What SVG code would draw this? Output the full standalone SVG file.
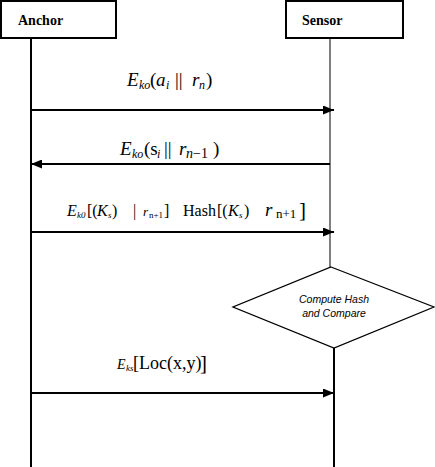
<svg xmlns="http://www.w3.org/2000/svg" width="435" height="467" viewBox="0 0 435 467">
<style>
.box{fill:#fff;stroke:#000;stroke-width:2}
.hdr{font-family:"Liberation Serif",serif;font-weight:bold;font-size:14px}
.life{stroke:#000;fill:none}
.msg{stroke:#000;stroke-width:2;fill:none}
.m{font-family:"Liberation Serif",serif;font-size:19px}
.i{font-style:italic}
.s{font-size:12px;font-style:italic}
.dt{font-family:"Liberation Sans",sans-serif;font-style:italic;font-size:10.5px;text-anchor:middle}
</style>
<defs>
<marker id="ah" markerWidth="11" markerHeight="9" refX="11" refY="4.5" orient="auto" markerUnits="userSpaceOnUse">
<path d="M0,0 L11,4.5 L0,9 Z" fill="#000"/>
</marker>
</defs>
<g id="anchor">
<rect class="box" x="1" y="1" width="115" height="37"/>
<text class="hdr" x="18" y="25">Anchor</text>
</g>
<g id="sensor">
<rect class="box" x="286" y="1" width="117" height="37"/>
<text class="hdr" x="302" y="25">Sensor</text>
</g>
<g id="decision">
<polygon points="331,267 434,307 334,348 233,307" fill="#fff" stroke="#000" stroke-width="1.3"/>
<text class="dt" x="334" y="303">Compute Hash</text>
<text class="dt" x="334" y="317">and Compare</text>
</g>
<g id="connectors">
<line class="life" x1="31" y1="38" x2="31" y2="467" stroke-width="2"/>
<line class="life" x1="330" y1="38" x2="330" y2="267" stroke-width="1"/>
<line class="life" x1="334" y1="348" x2="334" y2="467" stroke-width="2"/>
<line class="msg" x1="31" y1="110" x2="334" y2="110" marker-end="url(#ah)"/>
<line class="msg" x1="330" y1="164" x2="31" y2="164" marker-end="url(#ah)"/>
<line class="msg" x1="31" y1="232" x2="334" y2="232" marker-end="url(#ah)"/>
<line class="msg" x1="31" y1="393" x2="334" y2="393" marker-end="url(#ah)"/>
</g>
<g id="labels">
<text class="m"><tspan class="i" x="127" y="86">E</tspan><tspan class="s" x="139" y="89">ko</tspan><tspan x="150" y="86">(</tspan><tspan class="i" x="156" y="86">a</tspan><tspan class="s" x="166" y="89">i</tspan><tspan x="175" y="86">||</tspan><tspan class="i" x="192" y="86">r</tspan><tspan class="s" x="199" y="89">n</tspan><tspan x="206" y="86">)</tspan></text>
<text class="m"><tspan class="i" x="120" y="155">E</tspan><tspan class="s" x="132" y="158">ko</tspan><tspan x="144" y="155">(s</tspan><tspan class="s" x="157" y="158">i</tspan><tspan x="164" y="155">||</tspan><tspan class="i" x="179" y="155">r</tspan><tspan x="186" y="158" style="font-size:14px"><tspan class="i">n</tspan>−1</tspan><tspan x="213" y="155">)</tspan></text>
<text class="m" style="font-size:16px"><tspan class="i" x="67" y="216">E</tspan><tspan class="s" x="77" y="218" style="font-size:9px">k0</tspan><tspan x="87" y="216">[(</tspan><tspan class="i" x="97" y="216">K</tspan><tspan class="s" x="108" y="218" style="font-size:9px">s</tspan><tspan x="112" y="216">)</tspan><tspan x="133" y="216">|</tspan><tspan class="i" x="143" y="216" style="font-size:13px">r</tspan><tspan x="149" y="218" style="font-size:9px">n+1</tspan><tspan x="164" y="216">]</tspan><tspan x="183" y="216">Hash</tspan><tspan x="217" y="216">[(</tspan><tspan class="i" x="228" y="216">K</tspan><tspan class="s" x="239" y="218" style="font-size:9px">s</tspan><tspan x="244" y="216">)</tspan><tspan class="i" x="265" y="216" style="font-size:19px">r</tspan><tspan x="276" y="218" style="font-size:13px">n+1</tspan><tspan x="299" y="217" style="font-size:21px">]</tspan></text>
<text class="m"><tspan class="i" x="117" y="369" style="font-size:14px">E</tspan><tspan class="s" x="126" y="371" style="font-size:9px">ks</tspan><tspan x="133" y="369" style="font-size:18px">[Loc(x,y)</tspan><tspan x="200" y="370" style="font-size:21px">]</tspan></text>
</g>
</svg>
